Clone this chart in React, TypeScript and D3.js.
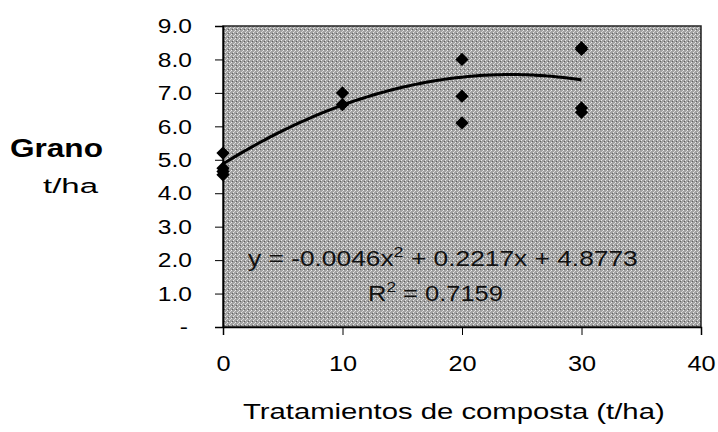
import React, { useEffect, useRef } from "react";
import * as d3 from "d3";

// observed yields (t/ha) per compost treatment
const treatments = [0, 0, 0, 0, 10, 10, 20, 20, 20, 30, 30, 30, 30];
const yields = [5.2, 4.75, 4.65, 4.55, 7.0, 6.65, 8.0, 6.9, 6.1, 8.35, 8.3, 6.55, 6.42];

// trendline coefficients shown in the label (a x^2 + b x + c)
const trendCoef = [-0.0046, 0.2217, 4.8773];
const trendText = "y = -0.0046x";
const trendText2 = " + 0.2217x + 4.8773";
const r2Text = " = 0.7159";

const yTicks = [0, 1, 2, 3, 4, 5, 6, 7, 8, 9];
const xTicks = [0, 10, 20, 30, 40];

// the scanned print is wider than it is tall, so glyphs get stretched sideways
function stretch(node: SVGTextElement, target: number | null, sx0 = 1) {
  const len = node.getComputedTextLength();
  const sx = target ? target / len : sx0;
  const anchor = node.getAttribute("text-anchor") || getComputedStyle(node).textAnchor || "start";
  const x0 = +(node.getAttribute("x") || 0);
  const y0 = +(node.getAttribute("y") || 0);
  // pivot on the anchor point so the text stays put
  d3.select(node).attr("transform", `translate(${x0},${y0}) scale(${sx},1) translate(${-x0},${-y0})`);
  return anchor;
}

const App = () => {
  const ref = useRef<SVGSVGElement>(null);
  const W = 718;
  const H = 432;
  const margin = { top: 26, right: 17, bottom: 105, left: 223 };
  const width = W - margin.left - margin.right;
  const height = H - margin.top - margin.bottom;

  useEffect(() => {
    const svg = d3.select(ref.current);
    svg.selectAll("*").remove();
    const font = "Arial, 'Liberation Sans', sans-serif";

    const x = d3.scaleLinear().domain([0, 40]).range([0, width]);
    const y = d3.scaleLinear().domain([0, 9]).range([height, 0]);

    // dithered grey background like the scanned print
    const defs = svg.append("defs");
    const pat = defs.append("pattern")
      .attr("id", "dither")
      .attr("width", 4)
      .attr("height", 4)
      .attr("patternUnits", "userSpaceOnUse");
    pat.append("rect").attr("width", 4).attr("height", 4).attr("fill", "#a2a2a2");
    pat.append("rect").attr("x", 0).attr("y", 0).attr("width", 1).attr("height", 1).attr("fill", "#ececec");
    pat.append("rect").attr("x", 2).attr("y", 2).attr("width", 1).attr("height", 1).attr("fill", "#e8e8e8");
    pat.append("rect").attr("x", 1).attr("y", 3).attr("width", 1).attr("height", 1).attr("fill", "#5e5e5e");
    pat.append("rect").attr("x", 3).attr("y", 1).attr("width", 1).attr("height", 1).attr("fill", "#d4d4d4");

    const g = svg.append("g")
      .attr("transform", `translate(${margin.left},${margin.top})`);

    g.append("rect")
      .attr("width", width)
      .attr("height", height)
      .attr("fill", "url(#dither)")
      .attr("stroke", "#222")
      .attr("stroke-width", 1.5);

    // y axis
    const yAxis = g.append("g")
      .call(d3.axisLeft(y).tickValues(yTicks).tickSize(8).tickFormat(d => (+d === 0 ? "-" : d3.format(".1f")(+d))));
    yAxis.select(".domain").attr("stroke", "#000").attr("stroke-width", 1.5);
    yAxis.selectAll(".tick line").attr("stroke", "#000");
    yAxis.selectAll<SVGTextElement, number>("text")
      .attr("x", d => (+d === 0 ? -35 : -31))
      .style("font-family", font)
      .style("font-size", "21px")
      .attr("fill", "#000")
      .each(function () { stretch(this, null, 1.17); });

    // x axis
    const xAxis = g.append("g")
      .attr("transform", `translate(0,${height})`)
      .call(d3.axisBottom(x).tickValues(xTicks).tickSize(8).tickFormat(d3.format("d")));
    xAxis.select(".domain").attr("stroke", "#000").attr("stroke-width", 1.5);
    xAxis.selectAll(".tick line").attr("stroke", "#000");
    xAxis.selectAll<SVGTextElement, number>("text")
      .attr("y", 28)
      .style("font-family", font)
      .style("font-size", "22px")
      .attr("fill", "#000")
      .each(function () { stretch(this, null, 1.15); });

    // trendline
    const [a, b, c] = trendCoef;
    const xs = d3.range(0, 30.01, 0.5);
    const line = d3.line<number>()
      .x(d => x(d))
      .y(d => y(a * d * d + b * d + c))
      .curve(d3.curveBasis);
    g.append("path")
      .datum(xs)
      .attr("d", line)
      .attr("fill", "none")
      .attr("stroke", "#000")
      .attr("stroke-width", 3);

    // points
    const pts = treatments.map((t, i) => ({ t, v: yields[i] }));
    g.selectAll(".pt")
      .data(pts)
      .enter()
      .append("path")
      .attr("class", "pt")
      .attr("d", d3.symbol(d3.symbolSquare, 88)())
      .attr("transform", d => `translate(${x(d.t)},${y(d.v)}) rotate(45)`)
      .attr("fill", "#000");

    // equation labels
    const eq = g.append("text")
      .attr("x", 248 - margin.left)
      .attr("y", 266 - margin.top)
      .style("font-family", font)
      .style("font-size", "22px")
      .attr("fill", "#111");
    eq.append("tspan").text(trendText);
    eq.append("tspan").attr("dy", -9).style("font-size", "15px").text("2");
    eq.append("tspan").attr("dy", 9).text(trendText2);
    stretch(eq.node() as SVGTextElement, 390);

    const r2 = g.append("text")
      .attr("x", 368 - margin.left)
      .attr("y", 301 - margin.top)
      .style("font-family", font)
      .style("font-size", "22px")
      .attr("fill", "#111");
    r2.append("tspan").text("R");
    r2.append("tspan").attr("dy", -9).style("font-size", "15px").text("2");
    r2.append("tspan").attr("dy", 9).text(r2Text);
    stretch(r2.node() as SVGTextElement, 135);

    // y title
    const t1 = svg.append("text")
      .attr("x", 10)
      .attr("y", 157)
      .style("font-family", font)
      .style("font-size", "26px")
      .style("font-weight", "bold")
      .text("Grano");
    stretch(t1.node() as SVGTextElement, 93);
    const t2 = svg.append("text")
      .attr("x", 43)
      .attr("y", 193)
      .style("font-family", font)
      .style("font-size", "21px")
      .text("t/ha");
    stretch(t2.node() as SVGTextElement, 55);

    // x title
    const t3 = svg.append("text")
      .attr("x", 243)
      .attr("y", 419)
      .style("font-family", font)
      .style("font-size", "22px")
      .text("Tratamientos de composta (t/ha)");
    stretch(t3.node() as SVGTextElement, 422);
  }, []);

  return (
    <svg ref={ref} width={W} height={H} style={{ position: "absolute", left: 0, top: 0, background: "#fff" }} />
  );
};

export default App;
